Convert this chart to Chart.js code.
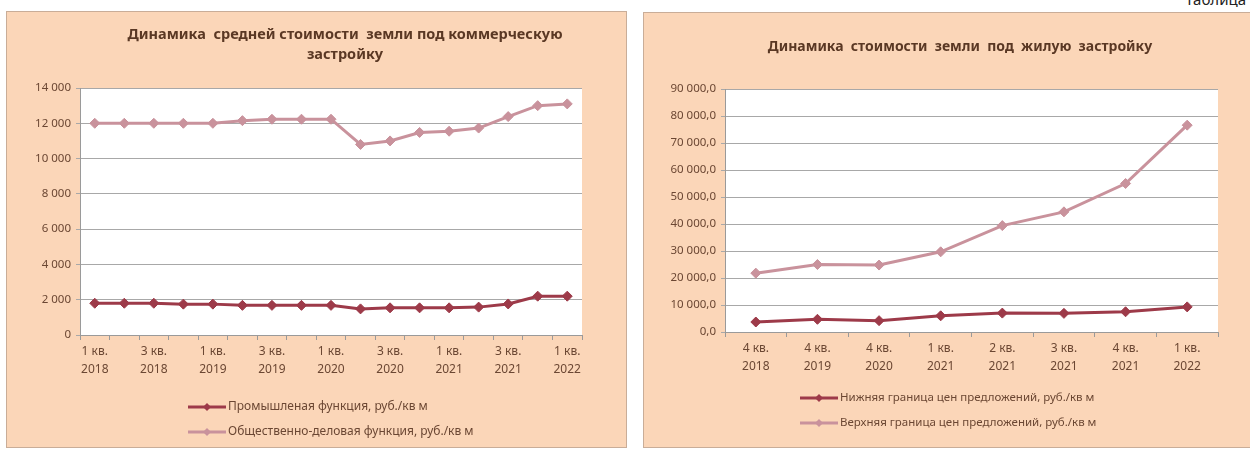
<!DOCTYPE html>
<html>
<head>
<meta charset="utf-8">
<script src="https://cdn.jsdelivr.net/npm/chart.js@4.4.0/dist/chart.umd.min.js"></script>
<style>
    body { margin: 0; width: 1250px; height: 450px; background: #fff; position: relative; overflow: hidden; }
    .panel { position: absolute; background: #fbd6b8; border: 1px solid #c9ad98; box-sizing: border-box; }
    #p1 { left: 6px; top: 11px; width: 621px; height: 437px; }
    #p2 { left: 643px; top: 12px; width: 607px; height: 436px; border-right: none; }
    #tbl { position: absolute; right: 4px; top: -11px; font: 15px 'Noto Sans', sans-serif; color: #222; }
</style>
</head>
<body>
<div id="tbl">Таблица</div>
<div class="panel" id="p1"><canvas id="c1" width="619" height="435"></canvas></div>
<div class="panel" id="p2"><canvas id="c2" width="606" height="434"></canvas></div>
<script>
// --- данные: коммерческая застройка
const commQuarters = [
    '1 кв. 2018', '2 кв. 2018', '3 кв. 2018', '4 кв. 2018',
    '1 кв. 2019', '2 кв. 2019', '3 кв. 2019', '4 кв. 2019',
    '1 кв. 2020', '2 кв. 2020', '3 кв. 2020', '4 кв. 2020',
    '1 кв. 2021', '2 кв. 2021', '3 кв. 2021', '4 кв. 2021',
    '1 кв. 2022'
];
const industrialValues = [1800, 1800, 1800, 1750, 1750, 1680, 1680, 1680, 1680, 1480, 1540, 1540, 1540, 1580, 1760, 2200, 2200];
const businessValues = [12000, 12000, 12000, 12000, 12000, 12150, 12230, 12230, 12230, 10800, 11000, 11480, 11550, 11730, 12380, 13000, 13100];
const commTicks = [0, 2000, 4000, 6000, 8000, 10000, 12000, 14000];

// --- данные: жилая застройка
const resQuarters = ['4 кв. 2018', '4 кв. 2019', '4 кв. 2020', '1 кв. 2021', '2 кв. 2021', '3 кв. 2021', '4 кв. 2021', '1 кв. 2022'];
const lowerValues = [3700, 4700, 4200, 6000, 7000, 6900, 7500, 9300];
const upperValues = [21800, 25000, 24800, 29700, 39400, 44500, 55000, 76600];
const resTicks = [0, 10000, 20000, 30000, 40000, 50000, 60000, 70000, 80000, 90000];

const DARK = '#9d3a49';
const PINK = '#c9929c';
const TEXT = '#6b4733';
const GRID = '#a8a8a8';

function spaced(n) {
    return String(Math.round(n)).replace(/\B(?=(\d{3})+(?!\d))/g, ' ');
}

// белая область построения + заголовок и легенда на канве
const panelText = {
    id: 'panelText',
    beforeDraw(chart) {
        const a = chart.chartArea, ctx = chart.ctx;
        ctx.save();
        ctx.fillStyle = '#ffffff';
        ctx.fillRect(a.left, a.top, a.right - a.left, a.bottom - a.top);
        ctx.restore();
    },
    afterDraw(chart, args, opts) {
        const ctx = chart.ctx;
        ctx.save();
        ctx.fillStyle = '#5a3824';
        ctx.font = opts.titleFont;
        ctx.textAlign = 'center';
        ctx.textBaseline = 'middle';
        opts.title.forEach((t, i) => ctx.fillText(t, opts.titleX, opts.titleY + i * 20));

        ctx.font = opts.legendFont;
        ctx.textAlign = 'left';
        chart.data.datasets.forEach((ds, i) => {
            const y = opts.legendY + i * 25, x = opts.legendX;
            ctx.strokeStyle = ds.borderColor;
            ctx.lineWidth = ds.borderWidth;
            ctx.beginPath(); ctx.moveTo(x, y); ctx.lineTo(x + 38, y); ctx.stroke();
            ctx.fillStyle = ds.borderColor;
            ctx.beginPath();
            ctx.moveTo(x + 19, y - 4); ctx.lineTo(x + 23, y); ctx.lineTo(x + 19, y + 4); ctx.lineTo(x + 15, y);
            ctx.closePath(); ctx.fill();
            ctx.fillStyle = TEXT;
            ctx.fillText(ds.label, x + 40, y);
        });
        ctx.restore();
    }
};

function makeChart(id, cfg) {
    return new Chart(document.getElementById(id), {
        type: 'line',
        data: {
            labels: cfg.labels,
            datasets: cfg.series.map(s => ({
                label: s.label,
                data: s.data,
                borderColor: s.color,
                backgroundColor: s.color,
                borderWidth: 3,
                pointStyle: 'rectRot',
                pointRadius: 5,
                pointBorderWidth: 1,
                tension: 0
            }))
        },
        options: {
            responsive: false,
            animation: false,
            layout: { padding: cfg.padding },
            plugins: {
                legend: { display: false },
                title: { display: false },
                tooltip: { enabled: false },
                panelText: cfg.text
            },
            scales: {
                x: {
                    offset: true,
                    afterFit: s => { s.height = 50; },
                    grid: { drawOnChartArea: false, offset: true, tickLength: 5, color: '#9a9a9a' },
                    border: { color: '#9a9a9a' },
                    ticks: {
                        autoSkip: false, maxRotation: 0, padding: 3, color: TEXT,
                        font: { family: "'Noto Sans', sans-serif", size: 12, lineHeight: 1.5 },
                        callback: (v, i) => (i % cfg.every === 0 ? cfg.labels[i].replace('кв. ', 'кв.\n').split('\n') : '')
                    }
                },
                y: {
                    min: 0, max: cfg.yTicks[cfg.yTicks.length - 1],
                    afterFit: s => { s.width = cfg.yWidth; },
                    afterBuildTicks: s => { s.ticks = cfg.yTicks.map(v => ({ value: v })); },
                    grid: { color: GRID, tickLength: 4 },
                    border: { color: '#9a9a9a' },
                    ticks: {
                        padding: 5, color: TEXT,
                        font: { family: "'Noto Sans', sans-serif", size: 11.5 },
                        callback: cfg.yFormat
                    }
                }
            }
        },
        plugins: [panelText]
    });
}

makeChart('c1', {
    labels: commQuarters,
    every: 2,
    yTicks: commTicks,
    yWidth: 73,
    padding: { left: 0, top: 76, right: 44, bottom: 62 },
    yFormat: v => spaced(v),
    series: [
        { label: 'Промышленая функция, руб./кв м', data: industrialValues, color: DARK },
        { label: 'Общественно-деловая функция, руб./кв м', data: businessValues, color: PINK }
    ],
    text: {
        title: ['Динамика  средней стоимости  земли под коммерческую', 'застройку'],
        titleFont: "bold 14.5px 'Noto Sans', sans-serif",
        titleX: 338, titleY: 23,
        legendFont: "12px 'Noto Sans', sans-serif",
        legendX: 181, legendY: 395
    }
});

makeChart('c2', {
    labels: resQuarters,
    every: 1,
    yTicks: resTicks,
    yWidth: 81,
    padding: { left: 0, top: 76, right: 32, bottom: 65 },
    yFormat: v => spaced(v) + ',0',
    series: [
        { label: 'Нижняя граница цен предложений, руб./кв м', data: lowerValues, color: DARK },
        { label: 'Верхняя граница цен предложений, руб./кв м', data: upperValues, color: PINK }
    ],
    text: {
        title: ['Динамика  стоимости  земли  под  жилую  застройку'],
        titleFont: "bold 14px 'Noto Sans', sans-serif",
        titleX: 316, titleY: 34,
        legendFont: "11.5px 'Noto Sans', sans-serif",
        legendX: 156, legendY: 385
    }
});
</script>
</body>
</html>
